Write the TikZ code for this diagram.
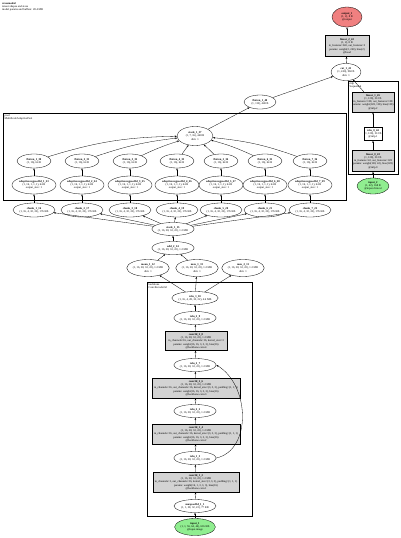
\documentclass[tikz,border=0pt]{standalone}
\usepackage{fontspec}
\setmainfont{Liberation Serif}
\usetikzlibrary{shapes.geometric,arrows.meta}
\definecolor{boxgray}{HTML}{D3D3D3}
\definecolor{ingreen}{HTML}{90EE90}
\definecolor{outred}{HTML}{F08080}
\begin{document}
\begin{tikzpicture}[x=1pt,y=-1pt,
  every node/.style={font=\fontsize{2.8}{3.3}\selectfont, align=center, inner sep=0pt},
  ellx/.style 2 args={ellipse, draw, line width=0.3pt, minimum width=#1pt, minimum height=#2pt},
  gbox/.style 2 args={rectangle, draw, fill=boxgray, line width=0.3pt, minimum width=#1pt, minimum height=#2pt},
  wbox/.style 2 args={rectangle, draw, fill=white, line width=0.3pt, minimum width=#1pt, minimum height=#2pt},
  arr/.style={-{Stealth[length=2.2pt,width=1.6pt]}, line width=0.3pt},
  clus/.style={draw, line width=1pt},
  clab/.style={anchor=north west, align=left}]
\useasboundingbox (0,0) rectangle (400,538);
% header
\node[clab] (hdr) at (2,2) {\textbf{crossmodal}\\tensor shapes and sizes\\model params and buffers: 28.4 MB};
% clusters
\draw[clus] (348,81) rectangle (398,174);
\node[clab] (lblmlp) at (349.5,82) {mlp\\Sequential};
\draw[clus] (3,113) rectangle (346,200);
\node[clab] (lblpool) at (4.5,114) {pool\\MultiScaleAdaptivePool};
\draw[clus] (147,282) rectangle (252,516);
\node[clab] (lblbb) at (148.5,283) {backbone\\ConvEncoder3d};
% top chain
\node[ellx={30}{20}, fill=outred] (out1) at (347,17) {\textbf{output\_1}\\(1, 2), 8 B\\@output};
\node[gbox={44}{21}] (lin242) at (347,46) {\textbf{linear\_2\_42}\\(1, 2), 8 B\\in\_features=240, out\_features=2\\params: weight(2, 240), bias(2)\\@head};
\node[ellx={30}{17}] (cat141) at (346,72) {\textbf{cat\_1\_41}\\(1, 240), 960 B\\dim: 1};
\node[ellx={32}{14}] (flat040) at (260,102) {\textbf{flatten\_1\_40}\\(1, 112), 448 B};
% mlp cluster
\node[gbox={42}{20}] (lin145) at (373,102) {\textbf{linear\_1\_45}\\(1, 128), 512 B\\in\_features=128, out\_features=128\\params: weight(128, 128), bias(128)\\@mlp.2};
\node[wbox={18}{13}] (relu046) at (373,134) {\textbf{relu\_0\_44}\\(1, 128), 512 B\\@mlp.1};
\node[gbox={42}{21}] (lin043) at (373,161) {\textbf{linear\_0\_43}\\(1, 128), 512 B\\in\_features=42, out\_features=128\\params: weight(128, 42), bias(128)\\@mlp.0};
\node[ellx={32}{16}, fill=ingreen] (in2) at (373,186) {\textbf{input\_2}\\(1, 42), 168 B\\@input.clinical};
% pool cluster
\node[ellx={36}{19}] (stk37) at (195,136) {\textbf{stack\_1\_37}\\(1, 7, 16), 448 B\\dim: 1};
\foreach \k/\x in {1/34,2/82,3/130,4/177,5/221,6/265,7/310}{
  \pgfmathtruncatemacro{\fa}{29+\k}
  \pgfmathtruncatemacro{\pa}{22+\k}
  \pgfmathtruncatemacro{\ca}{15+\k}
  \node[ellx={34}{14}] (fl\k) at (\x,161) {\textbf{flatten\_\k\_\fa}\\(1, 16), 64 B};
  \node[ellx={44}{18}] (ap\k) at (\x,185) {\textbf{adaptiveavgpool3d\_\k\_\pa}\\(1, 16, 1, 1, 1), 64 B\\output\_size: 1};
  \node[ellx={42}{14}] (ch\k) at (\x,210) {\textbf{chunk\_\k\_\ca}\\(1, 16, 4, 32, 22), 176 KB};
}
\node[ellx={42}{13}] (stk15) at (173,229) {\textbf{stack\_1\_15}\\(1, 16, 28, 32, 22), 1.2 MB};
\node[ellx={42}{13}] (add214) at (173,248) {\textbf{add\_2\_14}\\(1, 16, 28, 32, 22), 1.2 MB};
\node[ellx={42}{17}] (mean112) at (148,268) {\textbf{mean\_1\_12}\\(1, 16, 28, 32, 22), 1.2 MB\\dim: 1};
\node[ellx={42}{17}] (max113) at (197,268) {\textbf{max\_1\_13}\\(1, 16, 28, 32, 22), 1.2 MB\\dim: 1};
\node[ellx={42}{17}] (max211) at (243,268) {\textbf{max\_2\_11}\\(1, 16, 28, 32, 22), 1.2 MB\\dim: 1};
% backbone
\node[ellx={42}{13}] (relu110) at (195,298) {\textbf{relu\_1\_10}\\(1, 16, 4, 28, 32, 22), 4.6 MB};
\node[ellx={40}{13}] (relu29) at (195,318) {\textbf{relu\_2\_9}\\(1, 16, 28, 32, 22), 1.2 MB};
\node[gbox={62}{19}] (conv28) at (196,341) {\textbf{conv3d\_2\_8}\\(1, 16, 28, 32, 22), 1.2 MB\\in\_channels=16, out\_channels=16, kernel\_size=3\\params: weight(16, 16, 3, 3, 3), bias(16)\\@backbone.conv4};
\node[ellx={40}{13}] (relu27) at (195,365) {\textbf{relu\_2\_7}\\(1, 16, 28, 32, 22), 1.2 MB};
\node[gbox={88}{20}] (conv26) at (196,388) {\textbf{conv3d\_2\_6}\\(1, 16, 28, 32, 22), 1.2 MB\\in\_channels=16, out\_channels=16, kernel\_size=(3, 3, 3), padding=(1, 1, 1)\\params: weight(16, 16, 3, 3, 3), bias(16)\\@backbone.conv3};
\node[ellx={40}{13}] (relu25) at (195,411) {\textbf{relu\_2\_5}\\(1, 16, 28, 32, 22), 1.2 MB};
\node[gbox={88}{20}] (conv14) at (196,434) {\textbf{conv3d\_1\_4}\\(1, 16, 28, 32, 22), 1.2 MB\\in\_channels=16, out\_channels=16, kernel\_size=(3, 3, 3), padding=(1, 1, 1)\\params: weight(16, 16, 3, 3, 3), bias(16)\\@backbone.conv2};
\node[ellx={40}{13}] (relu13) at (195,458) {\textbf{relu\_1\_3}\\(1, 16, 28, 32, 22), 1.2 MB};
\node[gbox={86}{20}] (conv12) at (196,482) {\textbf{conv3d\_1\_2}\\(1, 16, 28, 32, 22), 1.2 MB\\in\_channels=1, out\_channels=16, kernel\_size=(3, 3, 3), padding=(1, 1, 1)\\params: weight(16, 1, 3, 3, 3), bias(16)\\@backbone.conv1};
\node[ellx={42}{13}] (mp11) at (195,506) {\textbf{maxpool3d\_1\_1}\\(1, 1, 28, 32, 22), 77 KB};
\node[ellx={40}{17}, fill=ingreen] (in1) at (195,527) {\textbf{input\_1}\\(1, 1, 56, 64, 44), 616 KB\\@input.image};
% edges
\draw[arr] (in1) -- (mp11);
\draw[arr] (mp11) -- (conv12);
\draw[arr] (conv12) -- (relu13);
\draw[arr] (relu13) -- (conv14);
\draw[arr] (conv14) -- (relu25);
\draw[arr] (relu25) -- (conv26);
\draw[arr] (conv26) -- (relu27);
\draw[arr] (relu27) -- (conv28);
\draw[arr] (conv28) -- (relu29);
\draw[arr] (relu29) -- (relu110);
\draw[arr] (relu13.east) .. controls (252,450) and (250,385) .. (relu27.east);
\draw[arr] (relu110) -- (mean112);
\draw[arr] (relu110) -- (max113);
\draw[arr] (relu110) -- (max211);
\draw[arr] (mean112) -- (add214);
\draw[arr] (max113) -- (add214);
\draw[arr] (add214) -- (stk15);
\foreach \k in {1,...,7}{
  \draw[arr] (stk15) -- (ch\k);
  \draw[arr] (ch\k) -- (ap\k);
  \draw[arr] (ap\k) -- (fl\k);
}
\draw[arr] (fl1) to[bend left=8] (stk37);
\draw[arr] (fl2) to[bend left=6] (stk37);
\draw[arr] (fl3) to[bend left=4] (stk37);
\draw[arr] (fl4) -- (stk37);
\draw[arr] (fl5) -- (stk37);
\draw[arr] (fl6) to[bend right=5] (stk37);
\draw[arr] (fl7) to[bend right=7] (stk37);
\draw[arr] (stk37) -- (flat040);
\draw[arr] (flat040) -- (cat141);
\draw[arr] (in2) -- (lin043);
\draw[arr] (lin043) -- (relu046);
\draw[arr] (relu046) -- (lin145);
\draw[arr] (lin145) -- (cat141);
\draw[arr] (cat141) -- (lin242);
\draw[arr] (lin242) -- (out1);
\end{tikzpicture}
\end{document}
